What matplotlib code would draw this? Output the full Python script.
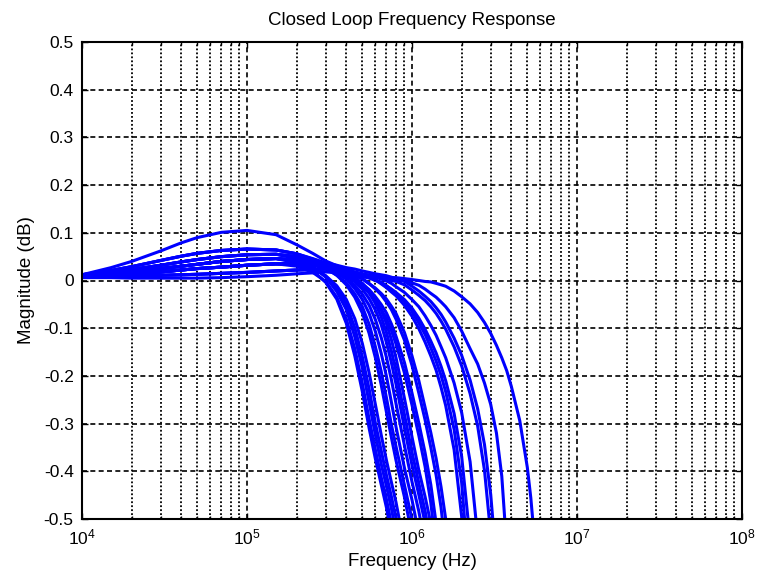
import matplotlib
matplotlib.use("Agg")
import matplotlib.pyplot as plt
from matplotlib.ticker import LogLocator, FixedLocator, FixedFormatter, NullFormatter

plt.rcParams['font.family'] = ['Liberation Sans', 'DejaVu Sans']
plt.rcParams['mathtext.fontset'] = 'custom'
plt.rcParams['mathtext.rm'] = 'Liberation Sans'
plt.rcParams['axes.unicode_minus'] = False

# frequency grid (Hz) shared by every response trace
freq_hz = [1e4, 1.5e4, 2e4, 3e4, 4e4, 5e4, 7e4, 1e5, 1.5e5, 2e5, 2.5e5, 3e5,
           3.5e5, 4e5, 4.5e5, 5e5, 5.5e5, 6e5, 6.5e5, 7e5, 7.5e5, 8e5, 9e5,
           1e6, 1.1e6, 1.2e6, 1.3e6, 1.4e6, 1.5e6, 1.6e6, 1.8e6, 2e6, 2.25e6,
           2.5e6, 2.75e6, 3e6, 3.25e6, 3.5e6, 3.75e6, 4e6, 4.5e6, 5e6, 5.25e6,
           5.5e6, 6e6]

# magnitude (dB) of each closed-loop case on freq_hz, until it drops off the plot
resp_fast = [
    [0.010, 0.014, 0.018, 0.025, 0.030, 0.034, 0.040, 0.044, 0.046,
     0.037, 0.021, -0.004, -0.039, -0.090, -0.158, -0.233, -0.310, -0.374, -0.427, -0.476, -0.531, -0.588],
    [0.010, 0.012, 0.014, 0.018, 0.022, 0.025, 0.028, 0.032, 0.035,
     0.030, 0.017, -0.002, -0.035, -0.081, -0.143, -0.216, -0.291, -0.355, -0.412, -0.459, -0.509, -0.564],
    [0.011, 0.017, 0.023, 0.032, 0.039, 0.044, 0.050, 0.054, 0.055,
     0.046, 0.029, 0.007, -0.023, -0.061, -0.118, -0.183, -0.256, -0.324, -0.384, -0.431, -0.478, -0.528, -0.641],
    [0.010, 0.014, 0.018, 0.025, 0.030, 0.034, 0.040, 0.044, 0.046,
     0.040, 0.028, 0.009, -0.016, -0.050, -0.099, -0.160, -0.228, -0.299, -0.356, -0.408, -0.453, -0.498, -0.602],
    [0.010, 0.012, 0.014, 0.018, 0.022, 0.025, 0.028, 0.032, 0.035,
     0.033, 0.025, 0.010, -0.011, -0.040, -0.080, -0.132, -0.194, -0.260, -0.323, -0.377, -0.423, -0.465, -0.557],
    [0.012, 0.021, 0.029, 0.042, 0.051, 0.057, 0.063, 0.066, 0.064, 0.056,
     0.042, 0.027, 0.011, -0.009, -0.035, -0.068, -0.111, -0.162, -0.218, -0.276, -0.329, -0.377, -0.454, -0.534],
    [0.010, 0.014, 0.018, 0.025, 0.030, 0.034, 0.040, 0.044, 0.046, 0.043,
     0.035, 0.025, 0.011, -0.005, -0.028, -0.055, -0.092, -0.139, -0.190, -0.246, -0.302, -0.348, -0.429, -0.501, -0.582],
    [0.011, 0.017, 0.023, 0.032, 0.039, 0.044, 0.050, 0.054, 0.055, 0.050,
     0.040, 0.029, 0.016, 0.003, -0.017, -0.040, -0.069, -0.107, -0.152, -0.201, -0.255, -0.307, -0.393, -0.460, -0.531, -0.611],
]

resp_mid = [
    [0.010, 0.012, 0.014, 0.018, 0.022, 0.025, 0.028, 0.032, 0.035, 0.035,
     0.032, 0.026, 0.016, 0.004, -0.010, -0.029, -0.052, -0.082, -0.119, -0.161, -0.208, -0.258, -0.346, -0.422, -0.484, -0.553],
    [0.010, 0.014, 0.018, 0.025, 0.030, 0.034, 0.040, 0.044, 0.046, 0.043,
     0.038, 0.030, 0.021, 0.010, -0.003, -0.018, -0.038, -0.062, -0.092, -0.130, -0.172, -0.217, -0.309, -0.387, -0.449, -0.508, -0.577],
    [0.012, 0.027, 0.040, 0.062, 0.079, 0.090, 0.101, 0.105, 0.096, 0.075,
     0.057, 0.041, 0.031, 0.020, 0.007, -0.007, -0.026, -0.048, -0.076, -0.109, -0.148, -0.190, -0.281, -0.360, -0.425, -0.483, -0.547],
    [0.011, 0.017, 0.023, 0.032, 0.039, 0.044, 0.050, 0.054, 0.055, 0.050,
     0.042, 0.033, 0.025, 0.017, 0.005, -0.006, -0.021, -0.041, -0.062, -0.090, -0.124, -0.162, -0.247, -0.328, -0.398, -0.453, -0.509, -0.571],
    [0.010, 0.012, 0.014, 0.018, 0.022, 0.025, 0.028, 0.032, 0.035, 0.035,
     0.032, 0.026, 0.019, 0.011, -0.001, -0.012, -0.026, -0.041, -0.060, -0.080, -0.105, -0.133, -0.194, -0.261, -0.325, -0.390, -0.466, -0.562],
    [0.010, 0.014, 0.018, 0.025, 0.030, 0.034, 0.040, 0.044, 0.046, 0.043,
     0.037, 0.030, 0.023, 0.014, 0.004, -0.007, -0.019, -0.034, -0.050, -0.068, -0.091, -0.117, -0.172, -0.236, -0.299, -0.361, -0.428, -0.509, -0.614],
    [0.012, 0.021, 0.029, 0.042, 0.051, 0.057, 0.063, 0.066, 0.064, 0.056,
     0.045, 0.035, 0.028, 0.021, 0.014, 0.004, -0.006, -0.018, -0.030, -0.045, -0.061, -0.081, -0.125, -0.178, -0.236, -0.292, -0.350, -0.408, -0.476, -0.563],
    [0.010, 0.012, 0.014, 0.018, 0.022, 0.025, 0.028, 0.032, 0.035, 0.035,
     0.033, 0.029, 0.023, 0.017, 0.010, 0.003, -0.007, -0.016, -0.027, -0.039, -0.054, -0.069, -0.109, -0.158, -0.210, -0.266, -0.319, -0.373, -0.433, -0.500, -0.685],
]

resp_slow = [
    [0.011, 0.017, 0.023, 0.032, 0.039, 0.044, 0.050, 0.054, 0.055, 0.050,
     0.042, 0.034, 0.028, 0.023, 0.017, 0.013, 0.007, 0.001, -0.007, -0.015, -0.024, -0.032, -0.052, -0.075,
     -0.101, -0.129, -0.158, -0.188, -0.224, -0.262, -0.355, -0.495, -0.786],
    [0.010, 0.014, 0.018, 0.025, 0.030, 0.034, 0.040, 0.044, 0.046, 0.043,
     0.038, 0.033, 0.027, 0.022, 0.017, 0.013, 0.008, 0.002, -0.004, -0.011, -0.019, -0.027, -0.044, -0.065,
     -0.089, -0.113, -0.141, -0.169, -0.199, -0.233, -0.312, -0.424, -0.646],
    [0.008, 0.009, 0.010, 0.011, 0.012, 0.013, 0.015, 0.017, 0.020, 0.022,
     0.023, 0.024, 0.020, 0.015, 0.012, 0.008, 0.005, 0.000, -0.004, -0.011, -0.018, -0.025, -0.040, -0.058,
     -0.079, -0.102, -0.127, -0.152, -0.180, -0.210, -0.279, -0.369, -0.543, -0.818],
    [0.010, 0.012, 0.014, 0.018, 0.022, 0.025, 0.028, 0.032, 0.035, 0.035,
     0.033, 0.030, 0.026, 0.022, 0.018, 0.014, 0.010, 0.007, 0.003, -0.001, -0.006, -0.013, -0.025, -0.040,
     -0.055, -0.074, -0.094, -0.115, -0.139, -0.162, -0.215, -0.277, -0.380, -0.537, -0.777],
    [0.008, 0.009, 0.010, 0.011, 0.012, 0.013, 0.015, 0.017, 0.020, 0.022,
     0.023, 0.024, 0.021, 0.017, 0.015, 0.012, 0.010, 0.008, 0.005, 0.003, 0.000, -0.002, -0.009, -0.020,
     -0.031, -0.042, -0.055, -0.069, -0.085, -0.102, -0.139, -0.179, -0.237, -0.305, -0.398, -0.532, -0.723],
    [0.012, 0.021, 0.029, 0.042, 0.051, 0.057, 0.063, 0.066, 0.064, 0.056,
     0.046, 0.037, 0.032, 0.027, 0.024, 0.020, 0.017, 0.014, 0.012, 0.010, 0.007, 0.004, -0.002, -0.012,
     -0.022, -0.033, -0.044, -0.057, -0.071, -0.087, -0.121, -0.157, -0.209, -0.269, -0.344, -0.449, -0.594],
    [0.008, 0.009, 0.010, 0.011, 0.012, 0.013, 0.015, 0.017, 0.020, 0.022,
     0.023, 0.024, 0.021, 0.018, 0.016, 0.013, 0.012, 0.010, 0.009, 0.007, 0.005, 0.003, 0.000, -0.005,
     -0.010, -0.018, -0.027, -0.035, -0.045, -0.055, -0.078, -0.106, -0.143, -0.175, -0.215, -0.260, -0.320,
     -0.410, -0.560, -0.750],
    [0.006, 0.006, 0.005, 0.005, 0.005, 0.005, 0.006, 0.008, 0.011, 0.014,
     0.016, 0.018, 0.016, 0.014, 0.012, 0.011, 0.010, 0.009, 0.008, 0.007, 0.006, 0.006, 0.004, 0.002,
     0.000, -0.002, -0.003, -0.006, -0.009, -0.012, -0.022, -0.034, -0.049, -0.067, -0.088, -0.111, -0.136,
     -0.162, -0.189, -0.222, -0.294, -0.392, -0.456, -0.536, -0.750],
]

ytick_vals = [-0.5, -0.4, -0.3, -0.2, -0.1, 0.0, 0.1, 0.2, 0.3, 0.4, 0.5]
ytick_labels = ['-0.5', '-0.4', '-0.3', '-0.2', '-0.1', '0', '0.1', '0.2', '0.3', '0.4', '0.5']

fig = plt.figure(figsize=(7.58, 5.79), dpi=100)
ax = fig.add_axes([82 / 758, 60 / 579, 660 / 758, 477 / 579])

for row in resp_fast + resp_mid + resp_slow:
    ax.plot(freq_hz[:len(row)], row, color=(0, 0, 1), linewidth=2.2,
            solid_joinstyle='round', solid_capstyle='round')

ax.set_xscale('log')
ax.set_xlim(1e4, 1e8)
ax.set_ylim(-0.5, 0.5)
ax.xaxis.set_major_locator(LogLocator(base=10, numticks=10))
ax.xaxis.set_minor_locator(LogLocator(base=10, subs=range(2, 10), numticks=50))
ax.xaxis.set_minor_formatter(NullFormatter())
ax.yaxis.set_major_locator(FixedLocator(ytick_vals))
ax.yaxis.set_major_formatter(FixedFormatter(ytick_labels))

# MATLAB-style grid: dashed major lines, dotted minor lines on the log axis
ax.grid(True, which='major', color='black', linewidth=1.2, linestyle=(0, (3.0, 2.0)))
ax.grid(True, which='minor', axis='x', color='black', linewidth=1.3, linestyle=(0, (1.0, 1.2)))

for side in ax.spines.values():
    side.set_linewidth(1.5)
    side.set_color('black')

ax.tick_params(which='both', direction='in', top=True, right=True, labelsize=12.5,
               width=1.0, pad=6)
ax.tick_params(which='major', length=4)
ax.tick_params(which='minor', length=2)

ax.set_title('Closed Loop Frequency Response', fontsize=13.5, pad=12)
ax.set_xlabel('Frequency (Hz)', fontsize=13.5, labelpad=4)
ax.set_ylabel('Magnitude (dB)', fontsize=13.5, labelpad=6)

fig.savefig('out.png', dpi=100)
